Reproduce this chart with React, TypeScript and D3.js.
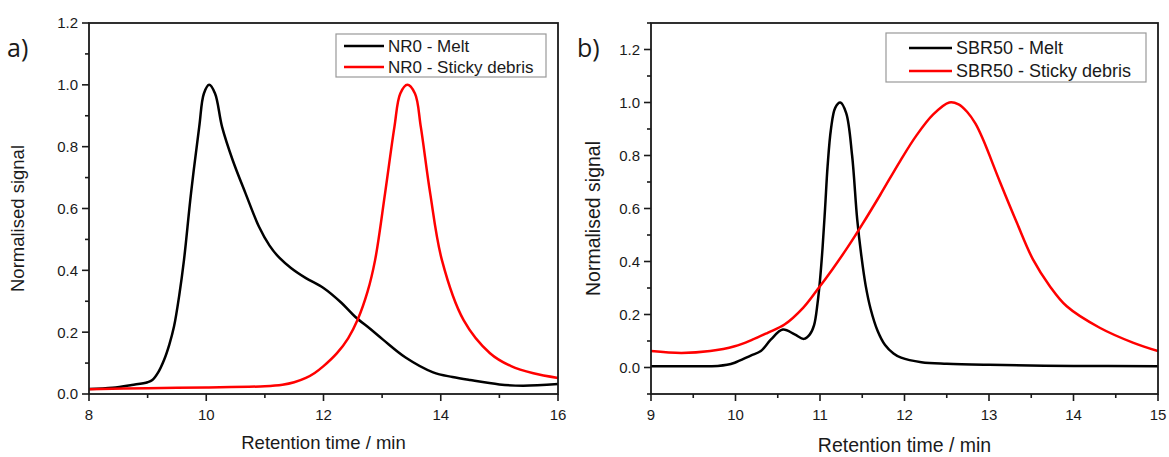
import * as d3 from "d3";

// NR0 (panel a)
const nr0MeltTime = [8.0, 8.4, 8.73, 9.0, 9.08, 9.18, 9.28, 9.37, 9.45, 9.54, 9.62, 9.74, 9.88, 9.96, 10.05, 10.15, 10.27, 10.45, 10.67, 10.9, 11.08, 11.25, 11.45, 11.7, 12.0, 12.3, 12.54, 12.8, 13.02, 13.4, 13.87, 14.2, 14.5, 15.0, 15.4, 16.0];
const nr0Melt = [0.016, 0.02, 0.029, 0.038, 0.045, 0.07, 0.11, 0.16, 0.218, 0.32, 0.433, 0.649, 0.864, 0.972, 1.0, 0.972, 0.864, 0.757, 0.649, 0.541, 0.48, 0.44, 0.407, 0.375, 0.343, 0.296, 0.25, 0.21, 0.175, 0.118, 0.07, 0.055, 0.045, 0.031, 0.027, 0.032];
const nr0DebrisTime = [8.0, 9.0, 10.0, 11.0, 11.3, 11.5, 11.7, 11.85, 12.0, 12.23, 12.42, 12.58, 12.75, 12.88, 13.05, 13.21, 13.31, 13.43, 13.56, 13.66, 13.82, 14.02, 14.39, 14.84, 15.2, 15.58, 16.0];
const nr0Debris = [0.015, 0.019, 0.021, 0.025, 0.03, 0.038, 0.052, 0.068, 0.09, 0.132, 0.18, 0.239, 0.33, 0.433, 0.649, 0.864, 0.972, 1.0, 0.972, 0.864, 0.649, 0.433, 0.239, 0.132, 0.09, 0.067, 0.052];

// SBR50 (panel b)
const sbrMeltTime = [9.0, 9.5, 9.79, 9.9, 9.99, 10.18, 10.3, 10.42, 10.56, 10.7, 10.81, 10.88, 10.93, 10.97, 11.0, 11.03, 11.06, 11.09, 11.13, 11.18, 11.24, 11.31, 11.38, 11.44, 11.49, 11.54, 11.6, 11.68, 11.77, 11.87, 11.96, 12.2, 12.5, 13.0, 14.0, 15.0];
const sbrMelt = [0.005, 0.005, 0.006, 0.01, 0.018, 0.045, 0.062, 0.106, 0.143, 0.125, 0.108, 0.125, 0.16, 0.24, 0.33, 0.45, 0.6, 0.76, 0.9, 0.98, 1.0, 0.96, 0.8, 0.56, 0.42, 0.31, 0.22, 0.14, 0.085, 0.053, 0.037, 0.02, 0.014, 0.01, 0.006, 0.005];
const sbrDebrisTime = [9.0, 9.36, 9.7, 9.99, 10.2, 10.38, 10.58, 10.8, 10.97, 11.15, 11.33, 11.5, 11.71, 11.95, 12.14, 12.34, 12.53, 12.64, 12.74, 12.84, 12.93, 13.13, 13.33, 13.52, 13.72, 13.92, 14.31, 14.71, 15.0];
const sbrDebris = [0.062, 0.055, 0.062, 0.08, 0.105, 0.131, 0.162, 0.225, 0.294, 0.372, 0.455, 0.54, 0.65, 0.78, 0.875, 0.955, 1.0, 0.993, 0.965, 0.92, 0.86, 0.7, 0.546, 0.408, 0.307, 0.231, 0.15, 0.093, 0.062];

const yTickLabels = [0, 0.2, 0.4, 0.6, 0.8, 1.0, 1.2];

const FONT = "Liberation Sans, Arial, sans-serif";
const AXIS = "#1a1a1a";
const TEXT = "#1a1a1a";

type Series = { name: string; color: string; t: number[]; v: number[] };

type Legend = { x: number; y: number; w: number; h: number; lx1: number; lx2: number; tx: number; rows: number[]; fs: number };

type PanelCfg = {
  tag: string;
  xDomain: [number, number];
  yDomain: [number, number];
  left: number; right: number; top: number; bottom: number;
  xMajor: number[]; xMinor: number[];
  yMinor: number[];
  series: Series[];
  legend: Legend;
  tagX: number;
  yTitleX: number;
  titleFs: number;
  xTitleY: number;
  tickFs: number;
};

const rng = (a: number, b: number, s: number) => {
  const out: number[] = [];
  for (let v = a; v <= b + 1e-9; v += s) out.push(+v.toFixed(3));
  return out;
};

const panels: PanelCfg[] = [
  {
    tag: "a)",
    xDomain: [8, 16], yDomain: [0, 1.2],
    left: 89, right: 558, top: 23, bottom: 394,
    xMajor: [8, 10, 12, 14, 16], xMinor: [9, 11, 13, 15],
    yMinor: rng(0.1, 1.1, 0.2),
    series: [
      { name: "NR0 - Melt", color: "#000", t: nr0MeltTime, v: nr0Melt },
      { name: "NR0 - Sticky debris", color: "#ff0000", t: nr0DebrisTime, v: nr0Debris },
    ],
    legend: { x: 336, y: 34, w: 210, h: 43, lx1: 344, lx2: 384, tx: 388, rows: [46, 67], fs: 17 },
    tagX: 7,
    yTitleX: 24,
    titleFs: 18.5,
    xTitleY: 449,
    tickFs: 15,
  },
  {
    tag: "b)",
    xDomain: [9, 15], yDomain: [-0.1, 1.3],
    left: 651, right: 1158, top: 23, bottom: 394,
    xMajor: [9, 10, 11, 12, 13, 14, 15], xMinor: rng(9.5, 14.5, 1),
    yMinor: rng(-0.1, 1.3, 0.2),
    series: [
      { name: "SBR50 - Melt", color: "#000", t: sbrMeltTime, v: sbrMelt },
      { name: "SBR50 - Sticky debris", color: "#ff0000", t: sbrDebrisTime, v: sbrDebris },
    ],
    legend: { x: 886, y: 33, w: 260, h: 49, lx1: 909, lx2: 952, tx: 956, rows: [48, 71], fs: 18 },
    tagX: 577,
    yTitleX: 600,
    titleFs: 19.5,
    xTitleY: 452,
    tickFs: 15,
  },
];

function Panel({ cfg }: { cfg: PanelCfg }) {
  const x = d3.scaleLinear().domain(cfg.xDomain).range([cfg.left, cfg.right]);
  const y = d3.scaleLinear().domain(cfg.yDomain).range([cfg.bottom, cfg.top]);
  const line = d3.line<[number, number]>()
    .x((d) => x(d[0]))
    .y((d) => y(d[1]))
    .curve(d3.curveCatmullRom.alpha(0.5));
  const midX = (cfg.left + cfg.right) / 2;
  const midY = (cfg.top + cfg.bottom) / 2 + 10;
  const lg = cfg.legend;

  return (
    <g fontFamily={FONT}>
      {/* curves */}
      {cfg.series.map((s) => (
        <path key={s.name}
          d={line(s.t.map((t, i) => [t, s.v[i]] as [number, number])) || ""}
          fill="none" stroke={s.color} strokeWidth={2.5} strokeLinejoin="round" />
      ))}

      {/* frame */}
      <rect x={cfg.left} y={cfg.top} width={cfg.right - cfg.left} height={cfg.bottom - cfg.top}
        fill="none" stroke={AXIS} strokeWidth={1.8} />

      {/* x ticks */}
      {cfg.xMajor.map((t) => (
        <g key={`xM${t}`}>
          <line x1={x(t)} x2={x(t)} y1={cfg.bottom} y2={cfg.bottom + 7} stroke={AXIS} strokeWidth={1.6} />
          <text x={x(t)} y={cfg.bottom + 26} textAnchor="middle" fontSize={cfg.tickFs} fill={TEXT}>{t}</text>
        </g>
      ))}
      {cfg.xMinor.map((t) => (
        <line key={`xm${t}`} x1={x(t)} x2={x(t)} y1={cfg.bottom} y2={cfg.bottom + 4} stroke={AXIS} strokeWidth={1.6} />
      ))}

      {/* y ticks */}
      {yTickLabels.map((t) => (
        <g key={`yM${t}`}>
          <line x1={cfg.left - 7} x2={cfg.left} y1={y(t)} y2={y(t)} stroke={AXIS} strokeWidth={1.6} />
          <text x={cfg.left - 11} y={y(t)} dy="0.36em" textAnchor="end" fontSize={cfg.tickFs} fill={TEXT}>{t.toFixed(1)}</text>
        </g>
      ))}
      {cfg.yMinor.map((t) => (
        <line key={`ym${t}`} x1={cfg.left - 4} x2={cfg.left} y1={y(t)} y2={y(t)} stroke={AXIS} strokeWidth={1.6} />
      ))}

      {/* titles */}
      <text x={midX} y={cfg.xTitleY} textAnchor="middle" fontSize={cfg.titleFs} fill={TEXT}>Retention time / min</text>
      <text transform={`translate(${cfg.yTitleX},${midY}) rotate(-90)`} textAnchor="middle" fontSize={cfg.titleFs} fill={TEXT}>Normalised signal</text>
      <text x={cfg.tagX} y={57} fontSize={25} fontFamily="Open Sans, sans-serif" fill={TEXT}>{cfg.tag}</text>

      {/* legend */}
      <rect x={lg.x} y={lg.y} width={lg.w} height={lg.h} fill="#fff" stroke="#999" strokeWidth={1.2} />
      {cfg.series.map((s, i) => (
        <g key={`lg${s.name}`}>
          <line x1={lg.lx1} x2={lg.lx2} y1={lg.rows[i]} y2={lg.rows[i]} stroke={s.color} strokeWidth={2.5} />
          <text x={lg.tx} y={lg.rows[i]} dy="0.36em" fontSize={lg.fs} fill={TEXT}>{s.name}</text>
        </g>
      ))}
    </g>
  );
}

export default function App() {
  return (
    <div style={{ position: "fixed", left: 0, top: 0, background: "#fff" }}>
      <svg width={1169} height={457} style={{ display: "block" }}>
        <rect width={1169} height={457} fill="#fff" />
        {panels.map((p) => <Panel key={p.tag} cfg={p} />)}
      </svg>
    </div>
  );
}
